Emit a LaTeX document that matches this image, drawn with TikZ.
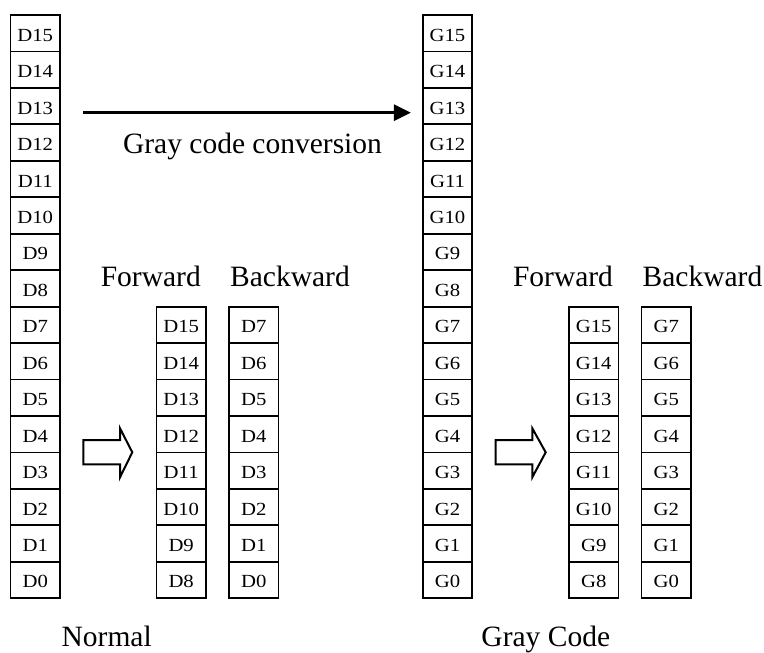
\documentclass[tikz,border=0pt]{standalone}
\usepackage{fontspec}
\setmainfont{Liberation Serif}
\usetikzlibrary{arrows.meta}
\newcommand\celltxt[1]{\scalebox{1.12}[1]{#1}}
\begin{document}
\begin{tikzpicture}[x=1pt,y=-1pt,
  cell/.style={draw,line width=1.8pt,minimum width=49.5pt,minimum height=36.45pt,inner sep=0pt,
    text height=16pt,text depth=0pt,font=\fontsize{18.5}{18.5}\selectfont},
  biglbl/.style={anchor=base,inner sep=0pt,font=\fontsize{29.5}{29.5}\selectfont},
  hollow/.style={draw,line width=2pt,line join=miter}]
\useasboundingbox (0,0) rectangle (764,653);
% main columns
\foreach \i in {0,...,15} {
  \pgfmathtruncatemacro\n{15-\i}
  \node[cell] (d\n) at (35.25,{15+36.45*(\i+0.5)}) {\celltxt{D\n}};
  \node[cell] (g\n) at (447.5,{15+36.45*(\i+0.5)}) {\celltxt{G\n}};
}
% forward / backward columns
\foreach \k in {0,...,7} {
  \pgfmathtruncatemacro\a{15-\k}
  \pgfmathtruncatemacro\b{7-\k}
  \node[cell] (fd\a) at (181.2,{15+36.45*(\k+8.5)}) {\celltxt{D\a}};
  \node[cell] (bd\b) at (253.8,{15+36.45*(\k+8.5)}) {\celltxt{D\b}};
  \node[cell] (fg\a) at (593.7,{15+36.45*(\k+8.5)}) {\celltxt{G\a}};
  \node[cell] (bg\b) at (666.3,{15+36.45*(\k+8.5)}) {\celltxt{G\b}};
}
% conversion arrow
\coordinate (arrstart) at (83,112.7);
\draw[line width=3pt,-{Triangle[length=17pt,width=16pt]},shorten >=11pt] (arrstart) -- (arrstart -| g13.west);
\node[biglbl] (conv) at (252.5,153.3) {Gray code conversion};
% labels
\node[biglbl] (fwl) at (150.8,286) {Forward};
\node[biglbl] (bwl) at (290,286) {Backward};
\node[biglbl] (fwr) at (563,286) {Forward};
\node[biglbl] (bwr) at (702.5,286) {Backward};
\node[biglbl] (normal) at (106.7,646) {Normal};
\node[biglbl] (graycode) at (545.8,646) {Gray Code};
% hollow arrows
\draw[hollow] (83.3,440) -- (120,440) -- (120,428.3) -- (132.3,452.3) -- (120,477.3) -- (120,464.3) -- (83.3,464.3) -- cycle;
\draw[hollow] (495.7,440) -- (532.3,440) -- (532.3,428.3) -- (545.7,452.3) -- (532.3,477.3) -- (532.3,464.3) -- (495.7,464.3) -- cycle;
\end{tikzpicture}
\end{document}
